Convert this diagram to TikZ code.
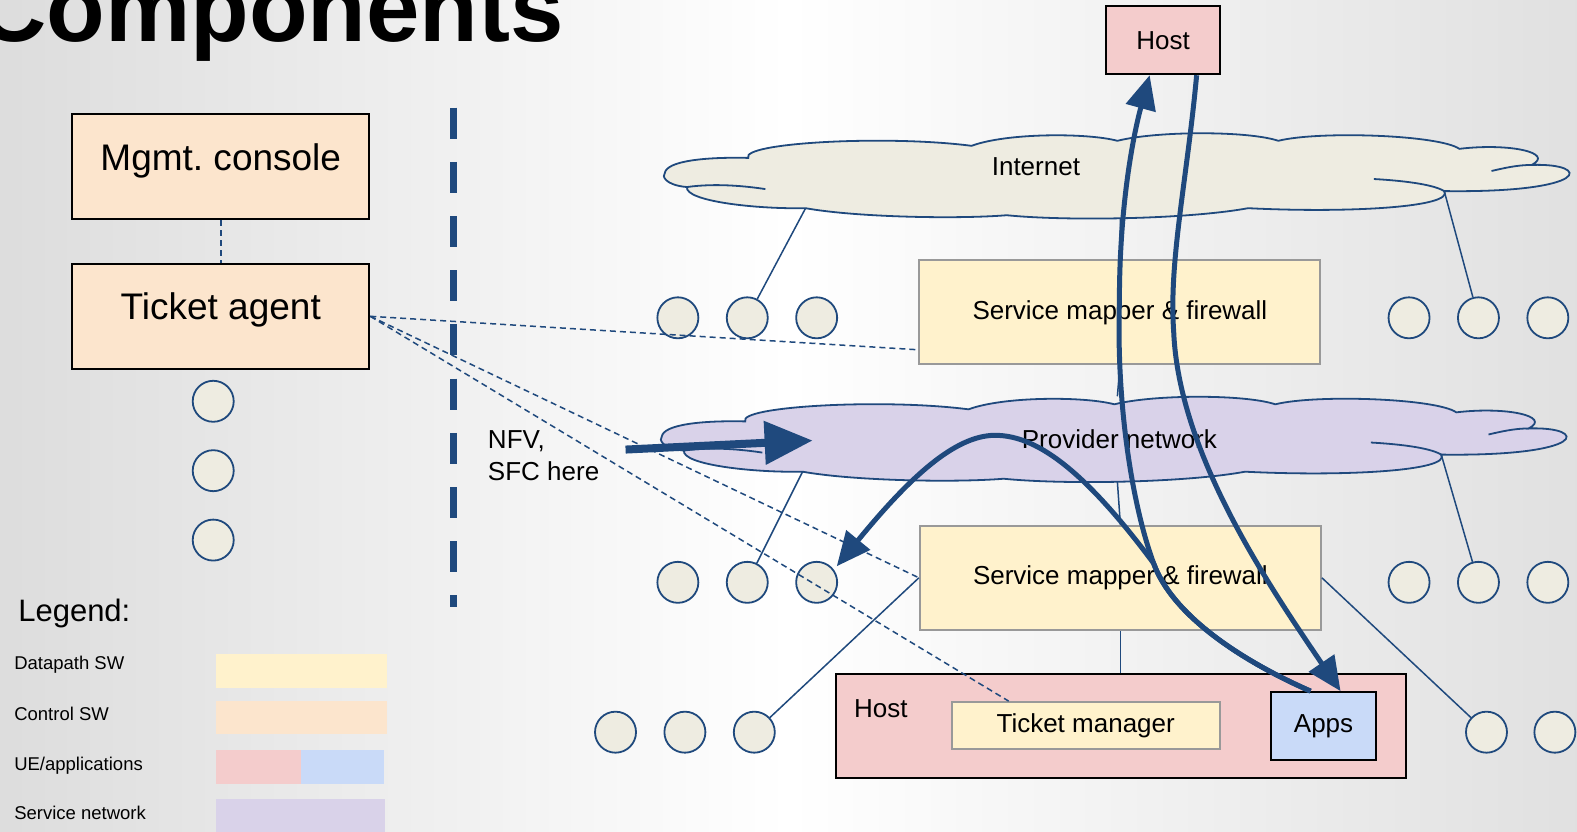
\documentclass[tikz,border=0pt]{standalone}
\usepackage{fontspec}
\setmainfont{Liberation Sans}
\usetikzlibrary{arrows.meta}

\definecolor{netblue}{HTML}{1F497D}
\definecolor{dpfill}{HTML}{FFF2CC}
\definecolor{dpline}{HTML}{999999}
\definecolor{ctrlfill}{HTML}{FCE5CD}
\definecolor{hostfill}{HTML}{F4CCCC}
\definecolor{appfill}{HTML}{C9DAF8}
\definecolor{svcfill}{HTML}{D9D2E9}
\definecolor{endfill}{HTML}{EEECE1}

\newcommand{\fs}[1]{\fontsize{#1}{#1}\selectfont}

% cloud outline, local origin at its left tip
\newcommand{\cloudblob}[3]{%
  \begin{scope}[shift={#3}]
    \draw[netblue, line width=1.8pt, fill=#2]
      (0,0) .. controls (2,-12) and (40,-16) .. (83,-15)
      .. controls (75,-30) and (220,-38) .. (305,-27)
      .. controls (340,-40) and (420,-40) .. (450,-32)
      .. controls (490,-42) and (580,-42) .. (610,-32)
      .. controls (650,-42) and (770,-38) .. (790,-24)
      .. controls (840,-30) and (885,-20) .. (862,-8)
      .. controls (922,-10) and (922,20) .. (775,18)
      .. controls (785,34) and (680,40) .. (580,35)
      .. controls (520,46) and (400,48) .. (340,42)
      .. controls (290,46) and (190,44) .. (140,35)
      .. controls (90,36) and (20,28) .. (22,14)
      .. controls (0,12) and (-3,3) .. (0,0) -- cycle;
    \draw[netblue, line width=1.8pt] (22,14) .. controls (50,10) and (80,13) .. (100,16);
    \draw[netblue, line width=1.8pt] (705,6) .. controls (740,8) and (765,12) .. (775,18);
    \draw[netblue, line width=1.8pt] (822,-2) .. controls (835,-5) and (848,-8) .. (862,-8);
    \coordinate (#1 left) at (140,35);
    \coordinate (#1 right) at (775,18);
    \coordinate (#1 top) at (453,-40);
    \coordinate (#1 bot) at (453,45);
  \end{scope}}

\tikzset{
  lbl/.style={font=\fs{26}, inner sep=0pt},
  ctrlbox/.style={draw=black, line width=2pt, fill=ctrlfill, minimum width=297pt, minimum height=105pt},
  dpbox/.style={draw=dpline, line width=2pt, fill=dpfill, minimum width=401pt, minimum height=104pt, font=\fs{26}},
  hostbox/.style={draw=black, line width=2pt, fill=hostfill},
  endpt/.style={circle, draw=netblue, line width=1.8pt, fill=endfill, minimum size=41pt, inner sep=0pt},
  link/.style={netblue, line width=1.5pt},
  ctl/.style={netblue, line width=1.5pt, dash pattern=on 6pt off 4pt},
  divider/.style={netblue, line width=7.5pt, dash pattern=on 31pt off 23.2pt},
  flow/.style={netblue, line width=5pt, -{Triangle[length=34pt,width=30pt]}},
  legendtxt/.style={font=\fs{18.5}, anchor=west, inner sep=0pt},
  swatch/.style={inner sep=0pt, draw=none},
}

\begin{document}
\begin{tikzpicture}[x=1.0057pt, y=-1.0057pt]
\useasboundingbox (0,0) rectangle (1568,827);
\clip (0,0) rectangle (1568,827);
\shade[left color=gray!27, right color=gray!24, middle color=white] (0,0) rectangle (1568,827);

\node[anchor=base west, inner sep=0pt, font=\bfseries\fs{96}] (title) at (-23,41) {Components};

% control side
\node[ctrlbox] (mgmt) at (219.5,166) {};
\node[lbl, font=\fs{37}] (mgmt text) at ([yshift=6pt]mgmt.center) {Mgmt.\ console};
\node[ctrlbox] (agent) at (219.5,314.5) {};
\node[lbl, font=\fs{37}] (agent text) at ([yshift=6pt]agent.center) {Ticket agent};
\draw[ctl] (mgmt) -- (agent);
\foreach \y [count=\i] in {399,468,537} \node[endpt] (el\i) at (212,\y) {};

\coordinate (div top) at (451,107);
\coordinate (div bot) at (451,604);
\draw[divider] (div top) -- (div bot);

% legend
\node[anchor=west, inner sep=0pt, font=\fs{31}] (legend) at (18,610) {Legend:};
\node[legendtxt] (lg dp) at (14,661) {Datapath SW};
\node[legendtxt] (lg ctrl) at (14,710) {Control SW};
\node[legendtxt] (lg ue) at (14,761) {UE/applications};
\node[legendtxt] (lg svc) at (14,808) {Service network};
\node[swatch, fill=dpfill, minimum width=171pt, minimum height=34pt] (sw dp) at (300,667) {};
\node[swatch, fill=ctrlfill, minimum width=171pt, minimum height=33pt] (sw ctrl) at (300,713.5) {};
\node[swatch, fill=hostfill, minimum width=86pt, minimum height=34pt] (sw host) at (257.5,763) {};
\node[swatch, fill=appfill, minimum width=83pt, minimum height=34pt] (sw app) at (341,763) {};
\node[swatch, fill=svcfill, minimum width=169pt, minimum height=40pt] (sw svc) at (299,814) {};

% networks
\cloudblob{inet}{endfill}{(661,172)}
\cloudblob{prov}{svcfill}{(658,434)}
\node[lbl] (inet text) at (1030,166) {Internet};
\node[lbl] (prov text) at (1113,437) {Provider network};

\node[hostbox, minimum width=114pt, minimum height=68pt, font=\fs{26}] (host top) at (1156.5,40) {Host};
\node[dpbox] (smf1) at (1113.5,310.5) {Service mapper \& firewall};
\node[dpbox] (smf2) at (1114,574.5) {Service mapper \& firewall};
\node[hostbox, minimum width=570pt, minimum height=104pt] (host) at (1114.5,721.5) {};
\node[lbl, anchor=west] (host text) at (849,705) {Host};
\node[dpbox, minimum width=268pt, minimum height=47pt] (tktmgr) at (1079.5,721.5) {Ticket manager};
\node[hostbox, fill=appfill, minimum width=105pt, minimum height=68pt, font=\fs{26}] (apps) at (1316,722) {Apps};

\draw[link] (inet bot) -- (smf1.north);
\draw[link] (smf1.south) -- (prov top);
\draw[link] (prov bot) -- (smf2.north);
\draw[link] (smf2.south) -- (host.north -| smf2.south);

\foreach \x [count=\i] in {674,743,812,1401,1470,1539} \node[endpt] (ea\i) at (\x,316) {};
\foreach \x [count=\i] in {674,743,812,1401,1470,1539} \node[endpt] (eb\i) at (\x,579) {};
\foreach \x [count=\i] in {612,681,750,1478,1546} \node[endpt] (ec\i) at (\x,728) {};

\draw[link] (inet left) -- (ea2);
\draw[link] (inet right) -- (ea5);
\draw[link] (prov left) -- (eb2);
\draw[link] (prov right) -- (eb5);
\draw[link] (smf2.west) -- (ec3);
\draw[link] (smf2.east) -- (ec4);

% ticket agent reaches the datapath
\draw[ctl] (agent.east) -- ([yshift=-37.5pt]smf1.west);
\draw[ctl] (agent.east) -- (smf2.west);
\draw[ctl] (agent.east) -- ([xshift=-77pt]tktmgr.north);

\node[lbl, anchor=north west, align=left, font=\fs{26}] (nfv) at (485,428) {NFV,\\[6pt]SFC here};
\coordinate (nfv tail) at (622,447);
\coordinate (nfv tip) at (808,438);
\draw[netblue, line width=8pt, -{Triangle[length=48pt,width=42pt]}] (nfv tail) -- (nfv tip);

% traffic paths
\draw[flow] ([xshift=-13pt]apps.north) .. controls (1230,655) and (1165,610) .. (1147,560)
  .. controls (1125,500) and (1110,400) .. (1113,300)
  .. controls (1113,200) and (1128,130) .. ([xshift=-13.5pt]host top.south);
\draw[flow] ([xshift=33.5pt]host top.south) .. controls (1180,180) and (1162,260) .. (1167,330)
  .. controls (1172,450) and (1260,580) .. ([xshift=17pt]apps.north);
\draw[flow] ([xshift=-13pt]apps.north) .. controls (1230,655) and (1165,610) .. (1147,560)
  .. controls (1080,470) and (1030,430) .. (985,433)
  .. controls (945,436) and (900,480) .. (832,563);
\end{tikzpicture}
\end{document}
